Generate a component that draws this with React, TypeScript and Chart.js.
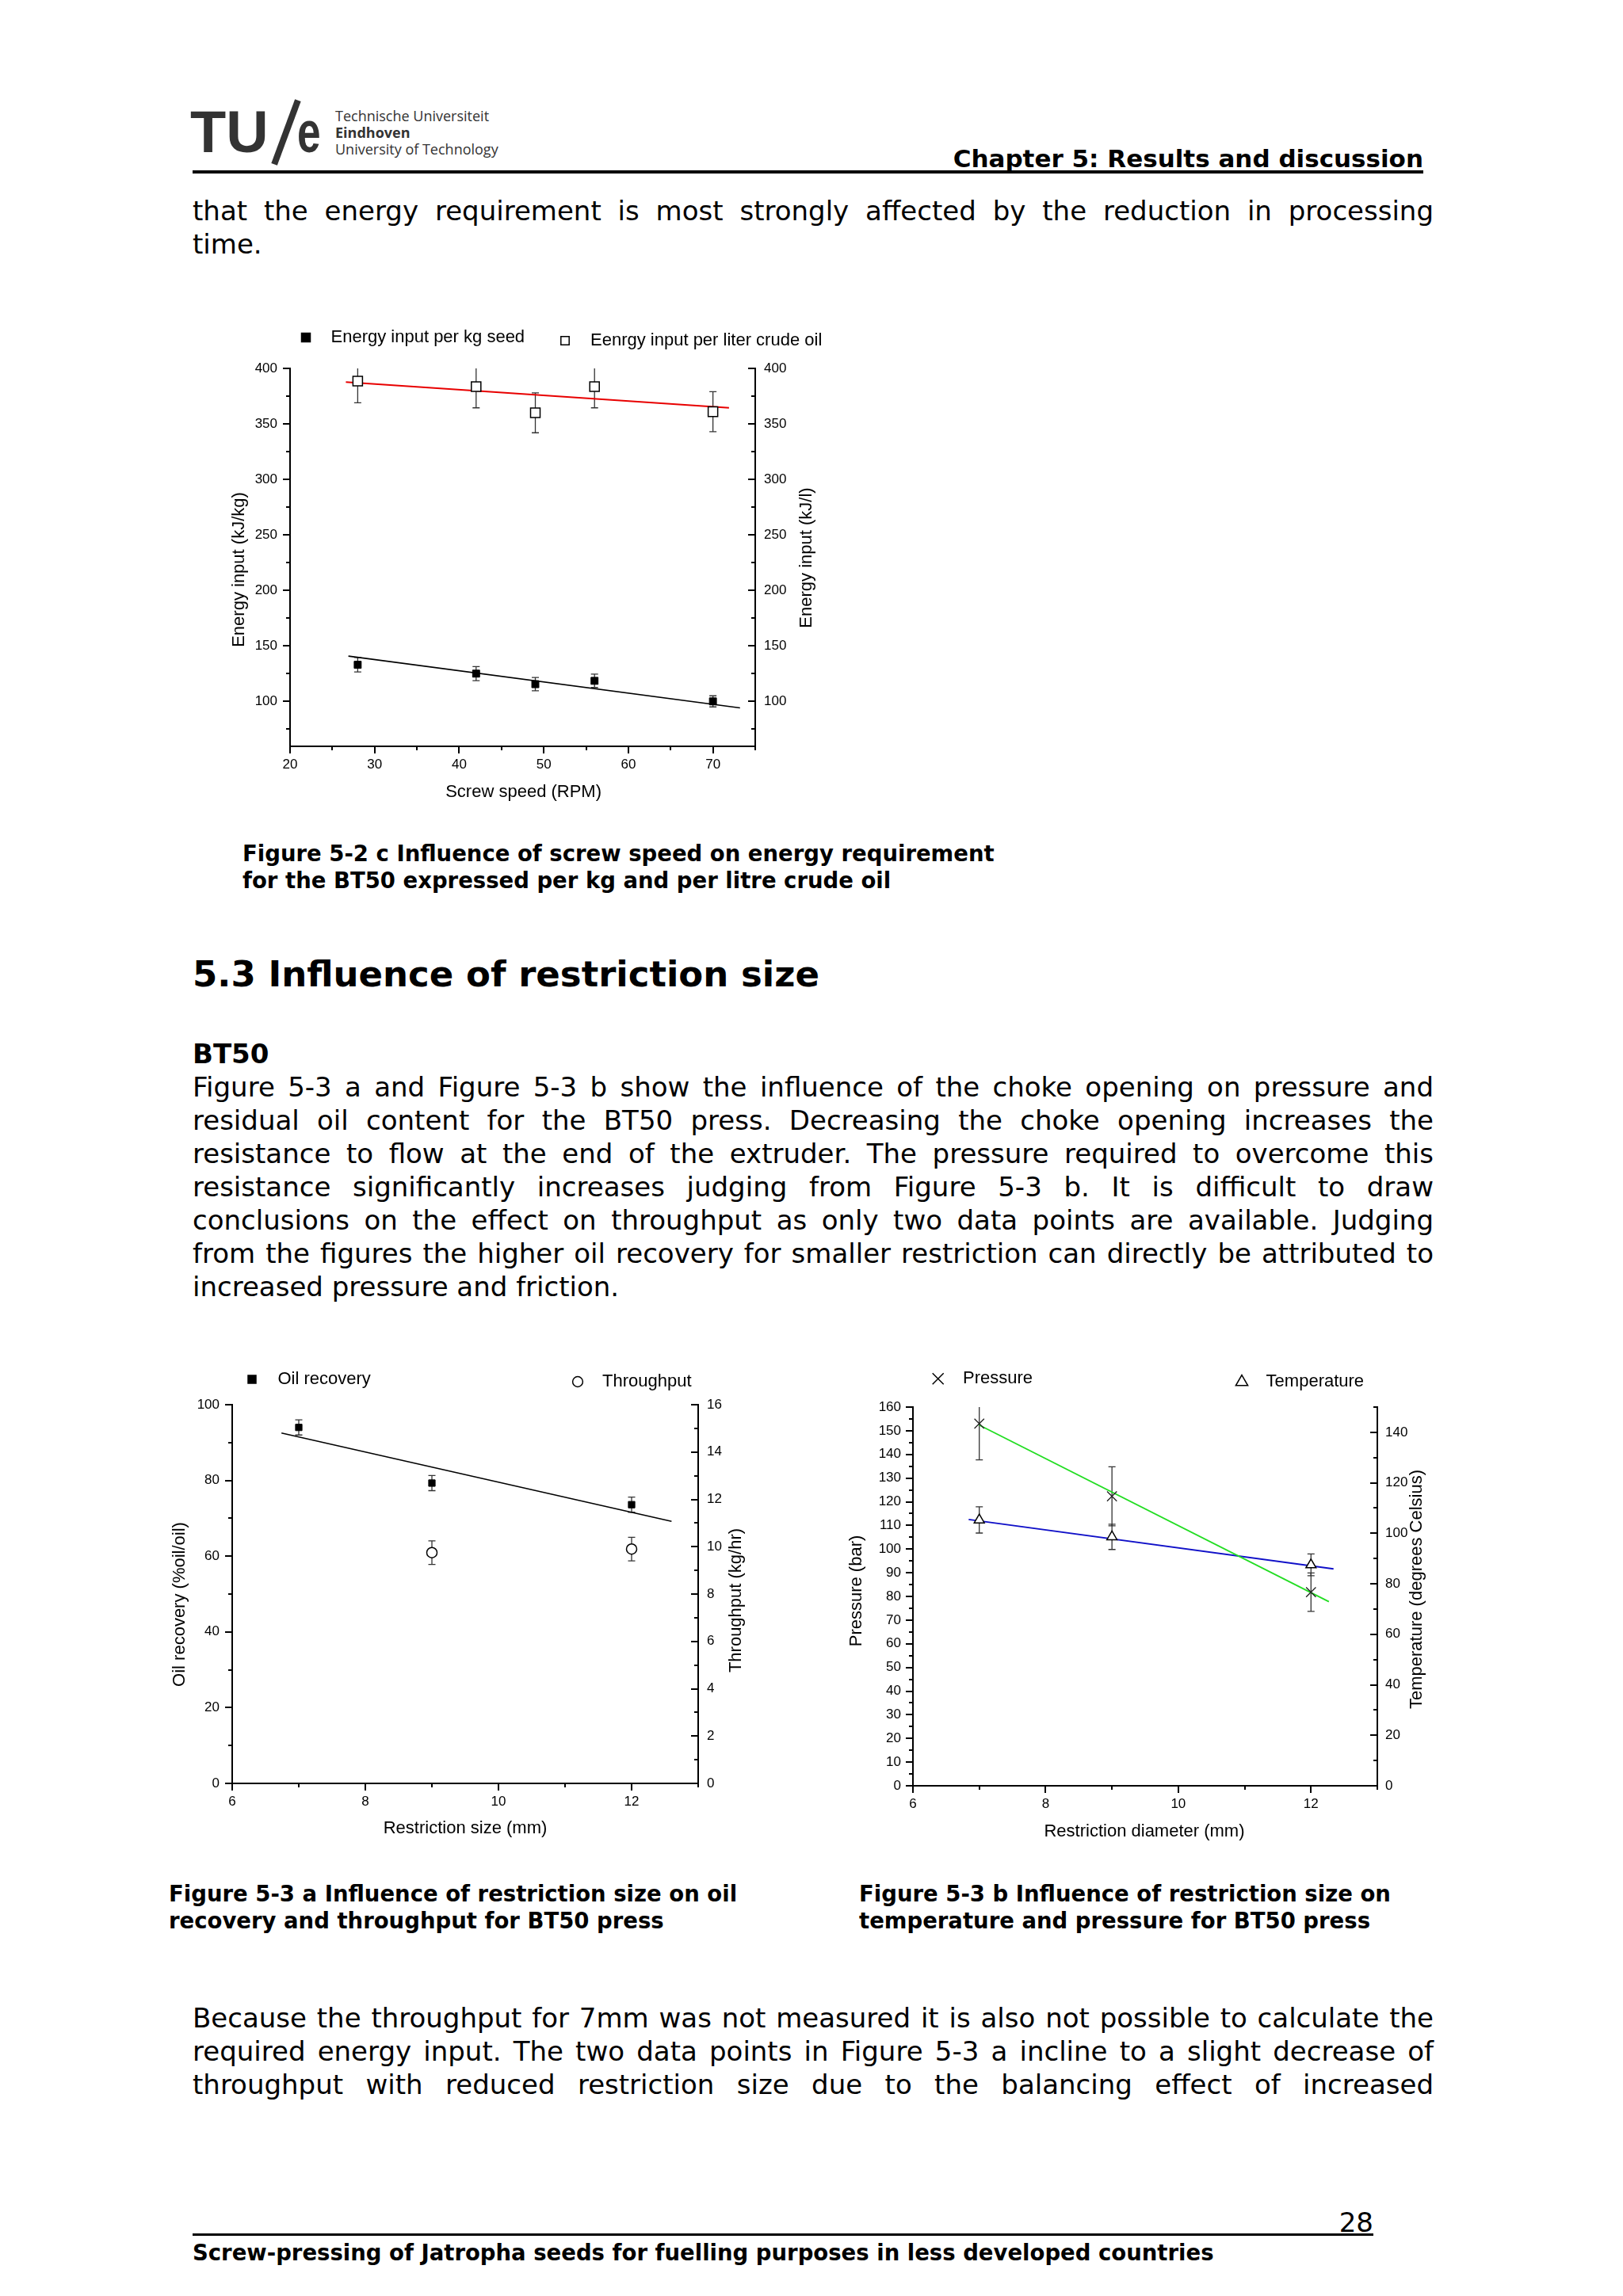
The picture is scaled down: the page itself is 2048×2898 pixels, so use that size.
import React, { useEffect, useRef } from 'react';
import { Chart, registerables } from 'chart.js';

Chart.register(...registerables);

const FONT_CHART = '"Liberation Sans", Arial, sans-serif';
const FONT_DOC = '"DejaVu Sans", Verdana, sans-serif';

// ---------- Figure 5-2 c : screw speed vs energy input ----------
const screwSpeed = [28, 42, 49, 56, 70];
const energyPerKg = [133, 125, 115.5, 118.5, 100];
const energyPerKgErr = [6.5, 6.3, 6, 6, 5];
const energyPerLiter = [388.5, 383.5, 360, 383.5, 361];
const energyPerLiterErr = [19.5, 19, 18, 19, 18];
const kgFitX = [26.9, 73.2];
const kgFitY = [140.8, 94.1];
const literFitX = [26.6, 71.9];
const literFitY = [387.6, 364.4];
const speedTicks = [20, 30, 40, 50, 60, 70];
const energyTicks = [100, 150, 200, 250, 300, 350, 400];

// ---------- Figure 5-3 a : restriction size vs oil recovery / throughput ----------
const restrictionSize = [7, 9, 12];
const oilRecovery = [94, 79.3, 73.6];
const oilRecoveryErr = [2, 2, 2];
const throughputSize = [9, 12];
const throughput = [9.75, 9.9];
const throughputErr = [0.5, 0.5];
const oilFitX = [6.74, 12.6];
const oilFitY = [92.5, 69.2];
const sizeTicks = [6, 8, 10, 12];
const recoveryTicks = [0, 20, 40, 60, 80, 100];
const throughputTicks = [0, 2, 4, 6, 8, 10, 12, 14, 16];

// ---------- Figure 5-3 b : restriction diameter vs pressure / temperature ----------
const restrictionDiameter = [7, 9, 12];
const pressure = [153, 122.3, 81.8];
const pressureErr = [15.3, 12.5, 8.1];
const temperature = [105.3, 98.6, 87.5];
const temperatureErr = [5.2, 5, 4.3];
const pressureFitX = [7.0, 12.27];
const pressureFitY = [152.4, 77.8];
const tempFitX = [6.84, 12.34];
const tempFitY = [105.5, 85.9];
const pressureTicks = [0, 10, 20, 30, 40, 50, 60, 70, 80, 90, 100, 110, 120, 130, 140, 150, 160];
const temperatureTicks = [0, 20, 40, 60, 80, 100, 120, 140];

// ---------- document text ----------
const para1 = [
  'that the energy requirement is most strongly affected by the reduction in processing',
  'time.',
];
const para2 = [
  'Figure 5-3 a and Figure 5-3 b show the influence of the choke opening on pressure and',
  'residual oil content for the BT50 press. Decreasing the choke opening increases the',
  'resistance to flow at the end of the extruder. The pressure required to overcome this',
  'resistance significantly increases judging from Figure 5-3 b. It is difficult to draw',
  'conclusions on the effect on throughput as only two data points are available. Judging',
  'from the figures the higher oil recovery for smaller restriction can directly be attributed to',
  'increased pressure and friction.',
];
const para3 = [
  'Because the throughput for 7mm was not measured it is also not possible to calculate the',
  'required energy input. The two data points in Figure 5-3 a incline to a slight decrease of',
  'throughput with reduced restriction size due to the balancing effect of increased',
];

type TickSpec = { id: string; side: 'bottom' | 'left' | 'right'; inward: boolean; major: number[]; minor: number[] };
type LegendSpec = { marker: 'rect' | 'circle' | 'triangle' | 'cross'; filled: boolean; size: number; mx: number; my: number; text: string; tx: number };
type TitleSpec = { text: string; dx: number; dy: number; rot: number };

function minorTicks(major: number[], min: number, max: number): number[] {
  const step = major[1] - major[0];
  const half = step / 2;
  const out: number[] = [];
  for (let v = major[0] - half; v >= min - 1e-9; v -= step) out.push(v);
  for (let i = 0; i < major.length - 1; i++) out.push((major[i] + major[i + 1]) / 2);
  for (let v = major[major.length - 1] + half; v <= max + 1e-9; v += step) out.push(v);
  return out;
}

function drawMarker(ctx: CanvasRenderingContext2D, m: string, x: number, y: number, r: number, filled: boolean) {
  ctx.beginPath();
  if (m === 'rect') ctx.rect(x - r, y - r, 2 * r, 2 * r);
  else if (m === 'circle') ctx.arc(x, y, r, 0, Math.PI * 2);
  else if (m === 'triangle') {
    ctx.moveTo(x, y - r);
    ctx.lineTo(x + r * 0.866, y + r * 0.5);
    ctx.lineTo(x - r * 0.866, y + r * 0.5);
    ctx.closePath();
  } else {
    ctx.moveTo(x - r, y - r);
    ctx.lineTo(x + r, y + r);
    ctx.moveTo(x + r, y - r);
    ctx.lineTo(x - r, y + r);
  }
  if (m !== 'cross') {
    ctx.fillStyle = filled ? '#000' : '#fff';
    ctx.fill();
  }
  ctx.stroke();
}

function makeDecor(ticks: TickSpec[], legend: LegendSpec[], titles: TitleSpec[]) {
  return {
    id: 'originDecor',
    beforeDatasetsDraw(chart: any) {
      const { ctx, chartArea: a } = chart;
      ctx.save();
      ctx.beginPath();
      ctx.rect(a.left, a.top, a.right - a.left, a.bottom - a.top);
      ctx.clip();
      ctx.strokeStyle = '#333';
      ctx.lineWidth = 1.3;
      chart.data.datasets.forEach((ds: any, i: number) => {
        if (!ds.errorBars) return;
        const meta = chart.getDatasetMeta(i);
        const ys = chart.scales[ds.yAxisID];
        meta.data.forEach((el: any, j: number) => {
          const val = ds.data[j].y;
          const e = ds.errorBars[j];
          const x = el.x;
          const yt = ys.getPixelForValue(val + e);
          const yb = ys.getPixelForValue(val - e);
          const c = 4.5;
          ctx.beginPath();
          ctx.moveTo(x, yt);
          ctx.lineTo(x, yb);
          ctx.moveTo(x - c, yt);
          ctx.lineTo(x + c, yt);
          ctx.moveTo(x - c, yb);
          ctx.lineTo(x + c, yb);
          ctx.stroke();
        });
      });
      ctx.restore();
    },
    afterDraw(chart: any) {
      const { ctx, chartArea: a } = chart;
      ctx.save();
      ctx.strokeStyle = '#000';
      ctx.lineWidth = 2;
      ctx.lineCap = 'butt';
      ticks.forEach((t) => {
        const sc = chart.scales[t.id];
        const draw = (vals: number[], len: number) =>
          vals.forEach((v) => {
            const p = Math.round(sc.getPixelForValue(v));
            ctx.beginPath();
            if (t.side === 'bottom') {
              ctx.moveTo(p, a.bottom);
              ctx.lineTo(p, a.bottom + (t.inward ? -len : len));
            } else if (t.side === 'left') {
              ctx.moveTo(a.left, p);
              ctx.lineTo(a.left + (t.inward ? len : -len), p);
            } else {
              ctx.moveTo(a.right, p);
              ctx.lineTo(a.right + (t.inward ? -len : len), p);
            }
            ctx.stroke();
          });
        draw(t.major, 9);
        draw(t.minor, 5);
      });
      ctx.font = `22px ${FONT_CHART}`;
      ctx.textBaseline = 'middle';
      ctx.textAlign = 'left';
      legend.forEach((l) => {
        const x = a.left + l.mx;
        const y = a.top + l.my;
        ctx.lineWidth = 1.5;
        ctx.strokeStyle = '#000';
        drawMarker(ctx, l.marker, x, y, l.size, l.filled);
        ctx.fillStyle = '#000';
        ctx.fillText(l.text, a.left + l.tx, y);
      });
      titles.forEach((t) => {
        ctx.save();
        ctx.translate(a.left + t.dx, a.top + t.dy);
        ctx.rotate((t.rot * Math.PI) / 180);
        ctx.textAlign = 'center';
        ctx.textBaseline = 'middle';
        ctx.fillStyle = '#000';
        ctx.fillText(t.text, 0, 0);
        ctx.restore();
      });
      ctx.restore();
    },
  };
}

function linScale(position: string, min: number, max: number, major: number[], size: number, padding: number) {
  const horizontal = position === 'bottom';
  return {
    type: 'linear',
    position,
    min,
    max,
    afterBuildTicks: (s: any) => {
      s.ticks = major.map((v) => ({ value: v }));
    },
    afterFit: (s: any) => {
      if (horizontal) s.height = size;
      else s.width = size;
    },
    grid: { display: false, drawTicks: false },
    border: { display: true, color: '#000', width: 2 },
    title: { display: false },
    ticks: {
      padding,
      autoSkip: false,
      maxRotation: 0,
      minRotation: 0,
      color: '#000',
      font: { family: FONT_CHART, size: 17 },
      callback: (v: any) => String(v),
    },
  };
}

function pts(xs: number[], ys: number[]) {
  return xs.map((x, i) => ({ x, y: ys[i] }));
}

function baseOptions(padTop: number, scales: any) {
  return {
    animation: false,
    responsive: false,
    maintainAspectRatio: false,
    layout: { padding: { top: padTop, left: 0, right: 0, bottom: 0 } },
    plugins: { legend: { display: false }, tooltip: { enabled: false }, title: { display: false } },
    events: [],
    scales,
  };
}

function buildChart1() {
  const xMin = 20, xMax = 75, yMin = 59.5, yMax = 400;
  return {
    type: 'line',
    data: {
      datasets: [
        {
          label: 'Energy input per kg seed',
          data: pts(screwSpeed, energyPerKg),
          yAxisID: 'y',
          showLine: false,
          pointStyle: 'rect',
          pointRadius: 6.3,
          pointBackgroundColor: '#000',
          pointBorderColor: '#000',
          pointBorderWidth: 1,
          errorBars: energyPerKgErr,
        },
        {
          label: 'Eenrgy input per liter crude oil',
          data: pts(screwSpeed, energyPerLiter),
          yAxisID: 'y1',
          showLine: false,
          pointStyle: 'rect',
          pointRadius: 8.5,
          pointBackgroundColor: '#fff',
          pointBorderColor: '#000',
          pointBorderWidth: 1.5,
          errorBars: energyPerLiterErr,
        },
        { label: 'kg fit', data: pts(kgFitX, kgFitY), yAxisID: 'y', borderColor: '#000', borderWidth: 1.7, pointRadius: 0, fill: false },
        { label: 'liter fit', data: pts(literFitX, literFitY), yAxisID: 'y1', borderColor: '#e80000', borderWidth: 2, pointRadius: 0, fill: false },
      ],
    },
    options: baseOptions(85, {
      x: linScale('bottom', xMin, xMax, speedTicks, 98, 13),
      y: linScale('left', yMin, yMax, energyTicks, 116, 16),
      y1: linScale('right', yMin, yMax, energyTicks, 157, 11),
    }),
    plugins: [
      makeDecor(
        [
          { id: 'x', side: 'bottom', inward: false, major: speedTicks, minor: minorTicks(speedTicks, xMin, xMax) },
          { id: 'y', side: 'left', inward: false, major: energyTicks, minor: minorTicks(energyTicks, yMin, yMax) },
          { id: 'y1', side: 'right', inward: true, major: energyTicks, minor: minorTicks(energyTicks, yMin, yMax) },
        ],
        [
          { marker: 'rect', filled: true, size: 5.5, mx: 20, my: -39, text: 'Energy input per kg seed', tx: 51.5 },
          { marker: 'rect', filled: false, size: 5.2, mx: 347, my: -35, text: 'Eenrgy input per liter crude oil', tx: 379 },
        ],
        [
          { text: 'Energy input (kJ/kg)', dx: -64.3, dy: 254, rot: -90 },
          { text: 'Energy input (kJ/l)', dx: 652.4, dy: 239, rot: -90 },
          { text: 'Screw speed (RPM)', dx: 294.6, dy: 534.7, rot: 0 },
        ]
      ),
    ],
  };
}

function buildChart2() {
  const xMin = 6, xMax = 13;
  return {
    type: 'line',
    data: {
      datasets: [
        {
          label: 'Oil recovery',
          data: pts(restrictionSize, oilRecovery),
          yAxisID: 'y',
          showLine: false,
          pointStyle: 'rect',
          pointRadius: 5.8,
          pointBackgroundColor: '#000',
          pointBorderColor: '#000',
          pointBorderWidth: 1,
          errorBars: oilRecoveryErr,
        },
        {
          label: 'Throughput',
          data: pts(throughputSize, throughput),
          yAxisID: 'y1',
          showLine: false,
          pointStyle: 'circle',
          pointRadius: 6.5,
          pointBackgroundColor: '#fff',
          pointBorderColor: '#000',
          pointBorderWidth: 1.5,
          errorBars: throughputErr,
        },
        { label: 'oil fit', data: pts(oilFitX, oilFitY), yAxisID: 'y', borderColor: '#000', borderWidth: 1.5, pointRadius: 0, fill: false },
      ],
    },
    options: baseOptions(83, {
      x: linScale('bottom', xMin, xMax, sizeTicks, 119, 13),
      y: linScale('left', 0, 100, recoveryTicks, 113, 16),
      y1: linScale('right', 0, 16, throughputTicks, 119, 11),
    }),
    plugins: [
      makeDecor(
        [
          { id: 'x', side: 'bottom', inward: false, major: sizeTicks, minor: minorTicks(sizeTicks, xMin, xMax) },
          { id: 'y', side: 'left', inward: false, major: recoveryTicks, minor: minorTicks(recoveryTicks, 0, 100) },
          { id: 'y1', side: 'right', inward: true, major: throughputTicks, minor: minorTicks(throughputTicks, 0, 16) },
        ],
        [
          { marker: 'rect', filled: true, size: 5, mx: 25, my: -32, text: 'Oil recovery', tx: 57.5 },
          { marker: 'circle', filled: false, size: 6.4, mx: 436, my: -29, text: 'Throughput', tx: 467 },
        ],
        [
          { text: 'Oil recovery (%oil/oil)', dx: -66, dy: 252, rot: -90 },
          { text: 'Throughput (kg/hr)', dx: 636, dy: 247, rot: -90 },
          { text: 'Restriction size (mm)', dx: 294, dy: 535, rot: 0 },
        ]
      ),
    ],
  };
}

function buildChart3() {
  const xMin = 6, xMax = 13;
  return {
    type: 'line',
    data: {
      datasets: [
        {
          label: 'Pressure',
          data: pts(restrictionDiameter, pressure),
          yAxisID: 'y',
          showLine: false,
          pointStyle: 'crossRot',
          pointRadius: 8.7,
          pointBorderColor: '#222',
          pointBorderWidth: 1.3,
          errorBars: pressureErr,
        },
        {
          label: 'Temperature',
          data: pts(restrictionDiameter, temperature),
          yAxisID: 'y1',
          showLine: false,
          pointStyle: 'triangle',
          pointRadius: 7.4,
          pointBackgroundColor: '#fff',
          pointBorderColor: '#000',
          pointBorderWidth: 1.5,
          errorBars: temperatureErr,
        },
        { label: 'pressure fit', data: pts(pressureFitX, pressureFitY), yAxisID: 'y', borderColor: '#22dd22', borderWidth: 1.8, pointRadius: 0, fill: false },
        { label: 'temperature fit', data: pts(tempFitX, tempFitY), yAxisID: 'y1', borderColor: '#1010c8', borderWidth: 1.8, pointRadius: 0, fill: false },
      ],
    },
    options: baseOptions(86, {
      x: linScale('bottom', xMin, xMax, sizeTicks, 116, 13),
      y: linScale('left', 0, 160, pressureTicks, 112, 15),
      y1: linScale('right', 0, 150, temperatureTicks, 132, 10),
    }),
    plugins: [
      makeDecor(
        [
          { id: 'x', side: 'bottom', inward: false, major: sizeTicks, minor: minorTicks(sizeTicks, xMin, xMax) },
          { id: 'y', side: 'left', inward: false, major: pressureTicks, minor: minorTicks(pressureTicks, 0, 160) },
          { id: 'y1', side: 'right', inward: true, major: temperatureTicks, minor: minorTicks(temperatureTicks, 0, 150) },
        ],
        [
          { marker: 'cross', filled: false, size: 7, mx: 31.7, my: -35.7, text: 'Pressure', tx: 63 },
          { marker: 'triangle', filled: false, size: 8.8, mx: 415, my: -31.6, text: 'Temperature', tx: 445.6 },
        ],
        [
          { text: 'Pressure (bar)', dx: -71.5, dy: 232, rot: -90 },
          { text: 'Temperature (degrees Celsius)', dx: 636, dy: 230, rot: -90 },
          { text: 'Restriction diameter (mm)', dx: 292, dy: 536, rot: 0 },
        ]
      ),
    ],
  };
}

function ChartCanvas({ left, top, width, height, build }: { left: number; top: number; width: number; height: number; build: () => any }) {
  const ref = useRef<HTMLCanvasElement>(null);
  useEffect(() => {
    const chart = new Chart(ref.current as HTMLCanvasElement, build());
    return () => chart.destroy();
  }, []);
  return <canvas ref={ref} width={width} height={height} style={{ position: 'absolute', left, top, width, height }} />;
}

const TEXT_LEFT = 243;
const TEXT_WIDTH = 1566;

function Line({ text, top, justify }: { text: string; top: number; justify: boolean }) {
  return (
    <div
      style={{
        position: 'absolute',
        left: TEXT_LEFT,
        top,
        width: TEXT_WIDTH,
        height: 42,
        lineHeight: '42px',
        fontSize: 34,
        fontFamily: FONT_DOC,
        color: '#000',
        whiteSpace: 'nowrap',
        textAlign: justify ? 'justify' : 'left',
        textAlignLast: justify ? 'justify' : 'left',
      } as React.CSSProperties}
    >
      {text}
    </div>
  );
}

function Abs({ left, top, right, size, bold, lh, children, family, color }: any) {
  return (
    <div
      style={{
        position: 'absolute',
        left,
        right,
        top,
        fontSize: size,
        lineHeight: `${lh}px`,
        fontWeight: bold ? 'bold' : 'normal',
        fontFamily: family || FONT_DOC,
        color: color || '#000',
        whiteSpace: 'nowrap',
        textAlign: right !== undefined ? 'right' : 'left',
      }}
    >
      {children}
    </div>
  );
}

export default function App() {
  return (
    <div style={{ position: 'absolute', left: 0, top: 0, width: 2048, height: 2898, background: '#fff', overflow: 'hidden' }}>
      {/* Logo */}
      <div style={{ position: 'absolute', left: 240, top: 131, fontSize: 74, lineHeight: '72px', fontWeight: 'bold', fontFamily: FONT_CHART, color: '#333' }}>TU</div>
      <div style={{ position: 'absolute', left: 356.5, top: 123.5, width: 8, height: 86, background: '#333', transform: 'rotate(20.3deg)' }} />
      <div style={{ position: 'absolute', left: 375, top: 131, fontSize: 74, lineHeight: '72px', fontWeight: 'bold', fontFamily: FONT_CHART, color: '#333', transform: 'scaleX(0.72)', transformOrigin: 'left center' }}>e</div>
      <Abs left={423} top={136} size={18} lh={21} family={'"Open Sans", sans-serif'} color="#333">Technische Universiteit</Abs>
      <Abs left={423} top={157} size={18} lh={21} bold family={'"Open Sans", sans-serif'} color="#333">Eindhoven</Abs>
      <Abs left={423} top={178} size={18} lh={21} family={'"Open Sans", sans-serif'} color="#333">University of Technology</Abs>

      {/* Header */}
      <Abs right={252} top={182} size={31} lh={36} bold>Chapter 5: Results and discussion</Abs>
      <div style={{ position: 'absolute', left: 243, top: 215, width: 1553, height: 4, background: '#000', zIndex: 2 }} />

      {/* Paragraph 1 */}
      {para1.map((t, i) => (
        <Line key={'p1' + i} text={t} top={245 + i * 42} justify={i < para1.length - 1} />
      ))}

      {/* Figure 5-2 c */}
      <ChartCanvas left={250} top={380} width={860} height={660} build={buildChart1} />
      <Abs left={306} top={1060} size={27.5} lh={34} bold>Figure 5-2 c Influence of screw speed on energy requirement</Abs>
      <Abs left={306} top={1094} size={27.5} lh={34} bold>for the BT50 expressed per kg and per litre crude oil</Abs>

      {/* Section heading */}
      <Abs left={243} top={1203} size={45} lh={54} bold>5.3 Influence of restriction size</Abs>
      <Abs left={243} top={1309} size={34} lh={42} bold>BT50</Abs>

      {/* Paragraph 2 */}
      {para2.map((t, i) => (
        <Line key={'p2' + i} text={t} top={1351 + i * 42} justify={i < para2.length - 1} />
      ))}

      {/* Figures 5-3 a and b */}
      <ChartCanvas left={180} top={1690} width={820} height={680} build={buildChart2} />
      <ChartCanvas left={1040} top={1690} width={830} height={680} build={buildChart3} />
      <Abs left={213} top={2373} size={27.5} lh={34} bold>Figure 5-3 a Influence of restriction size on oil</Abs>
      <Abs left={213} top={2407} size={27.5} lh={34} bold>recovery and throughput for BT50 press</Abs>
      <Abs left={1084} top={2373} size={27.5} lh={34} bold>Figure 5-3 b Influence of restriction size on</Abs>
      <Abs left={1084} top={2407} size={27.5} lh={34} bold>temperature and pressure for BT50 press</Abs>

      {/* Paragraph 3 */}
      {para3.map((t, i) => (
        <Line key={'p3' + i} text={t} top={2526 + i * 42} justify={true} />
      ))}

      {/* Footer */}
      <Abs right={315} top={2784} size={34} lh={42}>28</Abs>
      <div style={{ position: 'absolute', left: 243, top: 2819, width: 1490, height: 3, background: '#000' }} />
      <Abs left={243} top={2826} size={27.5} lh={34} bold>Screw-pressing of Jatropha seeds for fuelling purposes in less developed countries</Abs>
    </div>
  );
}
